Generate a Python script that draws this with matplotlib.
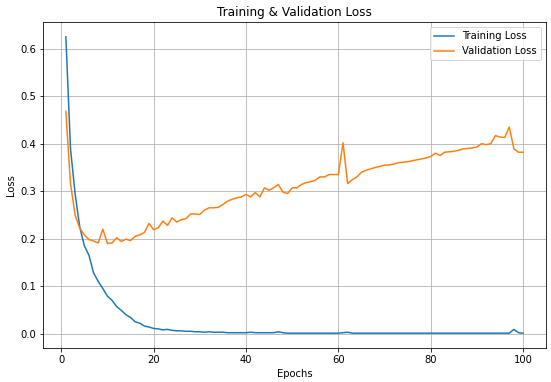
import matplotlib
matplotlib.use("Agg")
import matplotlib.pyplot as plt

# Epoch numbers
epochs = list(range(1, 101))

# Loss values
train_loss = [
    0.625, 0.390, 0.295, 0.225, 0.185, 0.165, 0.128, 0.110, 0.095, 0.079,
    0.070, 0.057, 0.049, 0.040, 0.034, 0.025, 0.022, 0.016, 0.014, 0.011,
    0.010, 0.008, 0.009, 0.007, 0.006, 0.006, 0.005, 0.005, 0.004, 0.004,
    0.003, 0.004, 0.003, 0.003, 0.003, 0.002, 0.002, 0.002, 0.002, 0.002,
    0.003, 0.002, 0.002, 0.002, 0.002, 0.002, 0.004, 0.002, 0.001, 0.001,
    0.001, 0.001, 0.001, 0.001, 0.001, 0.001, 0.001, 0.001, 0.001, 0.001,
    0.002, 0.003, 0.001, 0.001, 0.001, 0.001, 0.001, 0.001, 0.001, 0.001,
    0.001, 0.001, 0.001, 0.001, 0.001, 0.001, 0.001, 0.001, 0.001, 0.001,
    0.001, 0.001, 0.001, 0.001, 0.001, 0.001, 0.001, 0.001, 0.001, 0.001,
    0.001, 0.001, 0.001, 0.001, 0.001, 0.001, 0.001, 0.009, 0.002, 0.001,
]

val_loss = [
    0.468, 0.316, 0.250, 0.222, 0.208, 0.198, 0.195, 0.191, 0.220, 0.190,
    0.191, 0.202, 0.194, 0.199, 0.196, 0.205, 0.208, 0.213, 0.232, 0.219,
    0.223, 0.237, 0.228, 0.244, 0.235, 0.240, 0.242, 0.252, 0.252, 0.251,
    0.260, 0.265, 0.265, 0.266, 0.272, 0.279, 0.283, 0.286, 0.288, 0.293,
    0.288, 0.297, 0.288, 0.307, 0.302, 0.307, 0.314, 0.298, 0.295, 0.307,
    0.307, 0.314, 0.318, 0.320, 0.323, 0.330, 0.330, 0.335, 0.335, 0.335,
    0.402, 0.316, 0.324, 0.330, 0.340, 0.344, 0.347, 0.350, 0.352, 0.355,
    0.355, 0.357, 0.360, 0.361, 0.362, 0.364, 0.366, 0.368, 0.370, 0.373,
    0.380, 0.375, 0.382, 0.383, 0.384, 0.386, 0.389, 0.390, 0.391, 0.393,
    0.400, 0.398, 0.400, 0.417, 0.414, 0.413, 0.435, 0.389, 0.382, 0.382,
]

# Loss graph
plt.figure(figsize=(551 / 72, 382 / 72), dpi=72)
plt.plot(epochs, train_loss, label="Training Loss")
plt.plot(epochs, val_loss, label="Validation Loss")

plt.title("Training & Validation Loss")
plt.xlabel("Epochs")
plt.ylabel("Loss")
plt.grid(True)
plt.legend()

plt.subplots_adjust(left=43 / 551, right=546 / 551, top=1 - 22 / 382, bottom=1 - 348 / 382)
plt.savefig("out.png", dpi=72)
